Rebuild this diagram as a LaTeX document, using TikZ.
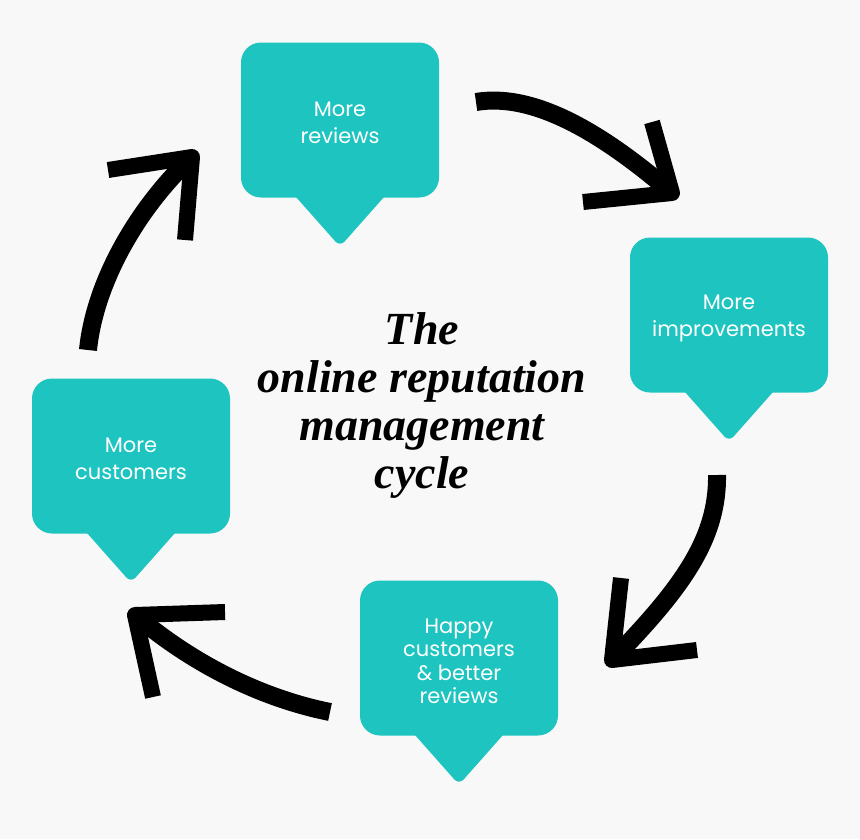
\documentclass[tikz,border=0pt]{standalone}
\usepackage{fontspec}
\newfontfamily\bubblefont{Poppins}
\newfontfamily\titlefont{Liberation Serif}
\definecolor{bubbleteal}{HTML}{1EC4C0}
\definecolor{paper}{HTML}{F8F8F8}

\begin{document}
\begin{tikzpicture}[x=1pt, y=-1pt,
    bubble/.style={rectangle, rounded corners=20pt, fill=bubbleteal, minimum width=198pt, minimum height=155pt, inner sep=0pt, text=white, align=center, font=\bubblefont\fontsize{21}{27}\selectfont},
    pointer/.style={fill=bubbleteal, rounded corners=7pt},
    brush/.style={line width=18pt, line cap=butt},
    brushhead/.style={line width=16pt, line cap=butt, line join=round},
    title/.style={align=center, font=\titlefont\fontsize{46}{48}\selectfont\bfseries\itshape}
]
    \fill[paper] (0,0) rectangle (860,839);
    \useasboundingbox (0,0) rectangle (860,839);

    % speech bubbles
    \node [bubble] (rev) at (340,120) {\rule{0pt}{21pt}More\\reviews};
    \node [bubble] (imp) at (729,315) {\rule{0pt}{21pt}More\\improvements};
    \node [bubble] (cus) at (131,456) {\rule{0pt}{21pt}More\\customers};
    \node [bubble, font=\bubblefont\fontsize{21}{23.5}\selectfont] (hap) at (459,658) {\rule{0pt}{21pt}Happy\\customers\\\& better\\reviews};
    \foreach \b in {rev,imp,cus,hap}
        \fill [pointer] ([xshift=-54pt,yshift=12pt]\b.south) -- ([yshift=-49pt]\b.south) -- ([xshift=54pt,yshift=12pt]\b.south) -- cycle;

    \node [title] (cycle) at (422,405) {The\\online reputation\\management\\cycle};

    % brush arrows
    \coordinate (a1s) at (476,102);
    \coordinate (a1t) at (672,193);
    \coordinate (a1u) at (652,122);
    \coordinate (a1l) at (583,202);
    \draw [brush] (a1s) .. controls (535,92) and (605,135) .. (a1t);
    \draw [brushhead] (a1u) -- (a1t) -- (a1l);

    \coordinate (a2s) at (717,475);
    \coordinate (a2t) at (612,660);
    \coordinate (a2u) at (621,578);
    \coordinate (a2r) at (697,650);
    \draw [brush] (a2s) .. controls (718,540) and (680,590) .. (a2t);
    \draw [brushhead] (a2u) -- (a2t) -- (a2r);

    \coordinate (a3s) at (330,712);
    \coordinate (a3t) at (135,615);
    \coordinate (a3r) at (225,612);
    \coordinate (a3d) at (153,697);
    \draw [brush] (a3s) .. controls (270,700) and (200,670) .. (a3t);
    \draw [brushhead] (a3r) -- (a3t) -- (a3d);

    \coordinate (a4s) at (88,350);
    \coordinate (a4t) at (192,157);
    \coordinate (a4l) at (108,170);
    \coordinate (a4d) at (185,240);
    \draw [brush] (a4s) .. controls (95,280) and (140,205) .. (a4t);
    \draw [brushhead] (a4l) -- (a4t) -- (a4d);
\end{tikzpicture}
\end{document}
